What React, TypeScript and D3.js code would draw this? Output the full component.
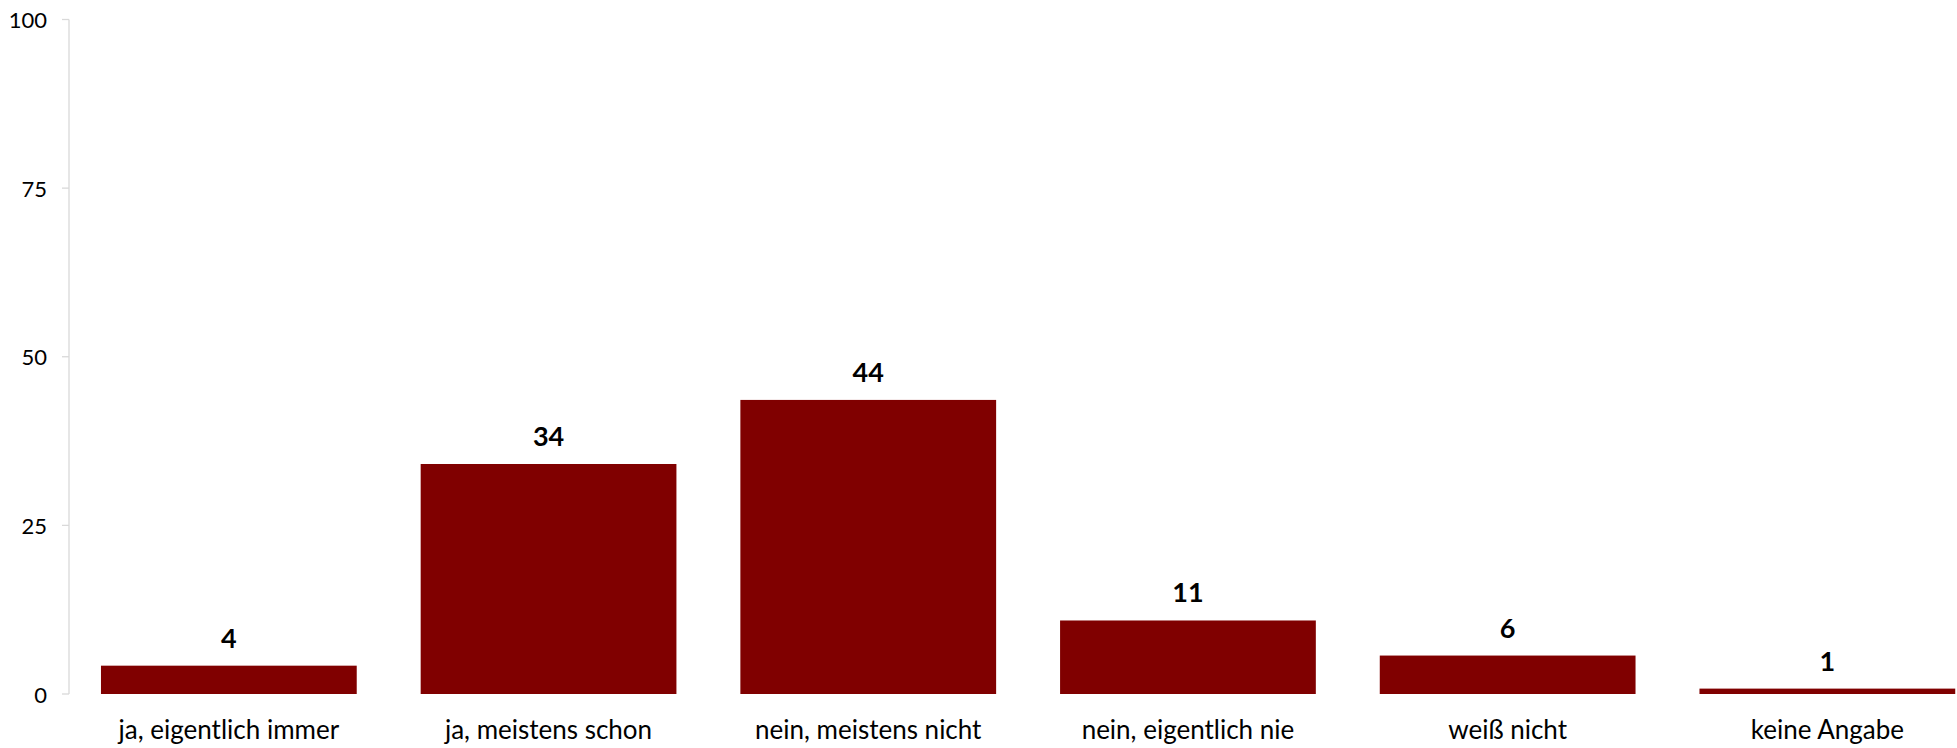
import React from "react";
import * as d3 from "d3";

const categories = [
  "ja, eigentlich immer",
  "ja, meistens schon",
  "nein, meistens nicht",
  "nein, eigentlich nie",
  "weiß nicht",
  "keine Angabe",
];
const values = [4.2, 34.1, 43.6, 10.9, 5.7, 0.8];
const valueLabels = ["4", "34", "44", "11", "6", "1"];
const yTicks = [0, 25, 50, 75, 100];

const W = 1957;
const H = 748;
const axisX = 69;
const y0 = 694;
const yTop = 19.5;

export default function App() {
  const y = d3.scaleLinear().domain([0, 100]).range([y0, yTop]);
  const x = d3
    .scaleBand<string>()
    .domain(categories)
    .range([axisX, axisX + 6 * 319.7])
    .paddingInner(0.2)
    .paddingOuter(0.1);
  const font = "Lato, Carlito, Calibri, sans-serif";
  return (
    <svg
      width={W}
      height={H}
      style={{ position: "absolute", left: 0, top: 0, display: "block", overflow: "hidden" }}
      fontFamily={font}
    >
      <rect x={0} y={0} width={W} height={H} fill="#ffffff" />
      <line x1={axisX} x2={axisX} y1={y(100)} y2={y(0)} stroke="#d9d9d9" strokeWidth={1.3} />
      {yTicks.map((t) => (
        <g key={t}>
          <line x1={axisX - 7} x2={axisX} y1={y(t)} y2={y(t)} stroke="#d9d9d9" strokeWidth={1.3} />
          <text x={47} y={y(t)} textAnchor="end" dominantBaseline="central" fontSize={22} fill="#000">
            {t}
          </text>
        </g>
      ))}
      {categories.map((c, i) => {
        const bx = x(c)!;
        const bw = x.bandwidth();
        const top = y(values[i]);
        return (
          <g key={c}>
            <rect x={bx} y={top} width={bw} height={y(0) - top} fill="#800000" />
            <text
              x={bx + bw / 2}
              y={top - 18}
              textAnchor="middle"
              fontSize={27}
              fontWeight="bold"
              fill="#000"
            >
              {valueLabels[i]}
            </text>
            <text x={bx + bw / 2} y={739} textAnchor="middle" fontSize={26} fill="#000">
              {c}
            </text>
          </g>
        );
      })}
    </svg>
  );
}
